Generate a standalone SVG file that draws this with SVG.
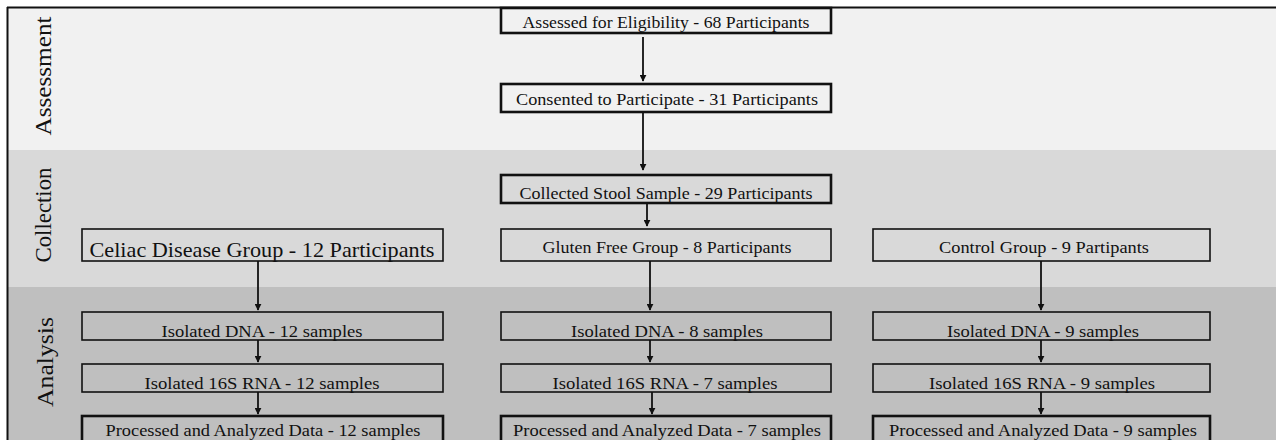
<svg xmlns="http://www.w3.org/2000/svg" width="1276" height="440" viewBox="0 0 1276 440">
<style>
.box{fill:none;stroke:#111;stroke-width:1.6}
.thick{stroke-width:2.6}
.t{font-family:"Liberation Serif","Times New Roman",serif;font-size:17.5px;fill:#111;text-anchor:middle}
.big{font-size:22px}
.side{font-family:"Liberation Serif","Times New Roman",serif;font-size:23px;fill:#111;text-anchor:middle}
.con{stroke:#111;stroke-width:1.8;fill:none;marker-end:url(#ah)}
</style>
<defs>
<marker id="ah" viewBox="0 0 10 10" refX="9" refY="5" markerWidth="7" markerHeight="7" orient="auto" markerUnits="userSpaceOnUse"><path d="M0,0 L10,5 L0,10 z" fill="#111"/></marker>
</defs>
<rect x="0" y="0" width="1276" height="440" fill="#ffffff"/>
<g id="bands">
<rect x="7" y="7" width="1269" height="143" fill="#f1f1f1"/>
<rect x="7" y="150" width="1269" height="137" fill="#d9d9d9"/>
<rect x="7" y="287" width="1269" height="153" fill="#bfbfbf"/>
<line x1="7" y1="7.5" x2="1276" y2="7.5" stroke="#111" stroke-width="2"/>
<line x1="7.5" y1="7" x2="7.5" y2="440" stroke="#111" stroke-width="2"/>
<text class="side" transform="translate(51,76) rotate(-90)" textLength="119" lengthAdjust="spacingAndGlyphs">Assessment</text>
<text class="side" transform="translate(51,215) rotate(-90)" textLength="95" lengthAdjust="spacingAndGlyphs">Collection</text>
<text class="side" transform="translate(53,362) rotate(-90)" textLength="90" lengthAdjust="spacingAndGlyphs">Analysis</text>
</g>
<g id="connectors">
<line class="con" x1="643" y1="37" x2="643" y2="81"/>
<line class="con" x1="643" y1="112" x2="643" y2="170"/>
<line class="con" x1="647" y1="203" x2="647" y2="226"/>
<line class="con" x1="258" y1="261" x2="258" y2="310"/>
<line class="con" x1="650" y1="261" x2="650" y2="310"/>
<line class="con" x1="1041" y1="261" x2="1041" y2="310"/>
<line class="con" x1="258" y1="340" x2="258" y2="362"/>
<line class="con" x1="258" y1="392" x2="258" y2="414"/>
<line class="con" x1="650" y1="340" x2="650" y2="362"/>
<line class="con" x1="652" y1="392" x2="652" y2="414"/>
<line class="con" x1="1041" y1="340" x2="1041" y2="362"/>
<line class="con" x1="1041" y1="392" x2="1041" y2="414"/>
</g>
<g id="n1"><rect class="box thick" x="501" y="8" width="330" height="25"/><text class="t" x="666" y="28" textLength="287" lengthAdjust="spacingAndGlyphs">Assessed for Eligibility - 68 Participants</text></g>
<g id="n2"><rect class="box thick" x="501" y="84" width="330" height="28"/><text class="t" x="667" y="105" textLength="302" lengthAdjust="spacingAndGlyphs">Consented to Participate - 31 Participants</text></g>
<g id="n3"><rect class="box thick" x="501" y="175" width="330" height="28"/><text class="t" x="666" y="199" textLength="293" lengthAdjust="spacingAndGlyphs">Collected Stool Sample - 29 Participants</text></g>
<g id="n4"><rect class="box" x="501" y="229" width="330" height="32"/><text class="t" x="667" y="253" textLength="249" lengthAdjust="spacingAndGlyphs">Gluten Free Group - 8 Participants</text></g>
<g id="n5"><rect class="box" x="82" y="229" width="361" height="32"/><text class="t big" x="262" y="257" textLength="345" lengthAdjust="spacingAndGlyphs">Celiac Disease Group - 12 Participants</text></g>
<g id="n6"><rect class="box" x="873" y="229" width="337" height="32"/><text class="t" x="1044" y="253" textLength="210" lengthAdjust="spacingAndGlyphs">Control Group - 9 Partipants</text></g>
<g id="n7"><rect class="box" x="82" y="312" width="361" height="28"/><text class="t" x="262" y="337" textLength="201" lengthAdjust="spacingAndGlyphs">Isolated DNA - 12 samples</text></g>
<g id="n8"><rect class="box" x="82" y="364" width="361" height="28"/><text class="t" x="262" y="389" textLength="235" lengthAdjust="spacingAndGlyphs">Isolated 16S RNA - 12 samples</text></g>
<g id="n9"><rect class="box thick" x="82" y="416" width="361" height="30"/><text class="t" x="263" y="436" textLength="315" lengthAdjust="spacingAndGlyphs">Processed and Analyzed Data - 12 samples</text></g>
<g id="n10"><rect class="box" x="501" y="312" width="330" height="28"/><text class="t" x="667" y="337" textLength="192" lengthAdjust="spacingAndGlyphs">Isolated DNA - 8 samples</text></g>
<g id="n11"><rect class="box" x="501" y="364" width="330" height="28"/><text class="t" x="665" y="389" textLength="225" lengthAdjust="spacingAndGlyphs">Isolated 16S RNA - 7 samples</text></g>
<g id="n12"><rect class="box thick" x="501" y="416" width="330" height="30"/><text class="t" x="667" y="436" textLength="308" lengthAdjust="spacingAndGlyphs">Processed and Analyzed Data - 7 samples</text></g>
<g id="n13"><rect class="box" x="873" y="312" width="337" height="28"/><text class="t" x="1043" y="337" textLength="192" lengthAdjust="spacingAndGlyphs">Isolated DNA - 9 samples</text></g>
<g id="n14"><rect class="box" x="873" y="364" width="337" height="28"/><text class="t" x="1042" y="389" textLength="226" lengthAdjust="spacingAndGlyphs">Isolated 16S RNA - 9 samples</text></g>
<g id="n15"><rect class="box thick" x="873" y="416" width="337" height="30"/><text class="t" x="1043" y="436" textLength="308" lengthAdjust="spacingAndGlyphs">Processed and Analyzed Data - 9 samples</text></g>
</svg>
